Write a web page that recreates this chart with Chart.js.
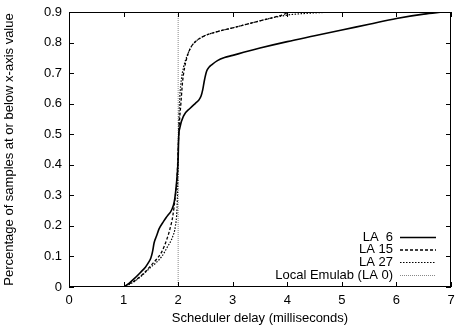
<!DOCTYPE html>
<html><head><meta charset="utf-8">
<script src="https://cdn.jsdelivr.net/npm/chart.js@4/dist/chart.umd.min.js"></script>
<style>html,body{margin:0;padding:0;background:#fff}#wrap{width:456px;height:326px}</style>
</head><body><div id="wrap"><canvas id="c" width="456" height="326"></canvas></div>
<script>
const xTicks = [0,1,2,3,4,5,6,7];
const yTicks = [0,0.1,0.2,0.3,0.4,0.5,0.6,0.7,0.8,0.9];
const seriesNames = ["LA  6","LA 15","LA 27","Local Emulab (LA 0)"];

const la6X = [1.0,1.1,1.2,1.3,1.4,1.45,1.5,1.53,1.56,1.6,1.65,1.73,1.8,1.88,1.93,1.97,2.0,2.01,2.03,2.1,2.22,2.32,2.38,2.42,2.45,2.48,2.52,2.56,2.62,2.72,2.85,3.0,3.2,3.5,4.0,4.5,5.0,5.5,6.0,6.5,6.85];
const la6Y = [0,0.012,0.028,0.046,0.065,0.078,0.095,0.115,0.145,0.165,0.19,0.214,0.232,0.252,0.28,0.34,0.42,0.49,0.52,0.56,0.585,0.602,0.612,0.625,0.645,0.675,0.705,0.718,0.728,0.741,0.751,0.758,0.768,0.782,0.803,0.822,0.841,0.86,0.879,0.893,0.9];

const la15X = [1.02,1.1,1.2,1.3,1.4,1.5,1.6,1.7,1.8,1.85,1.9,1.95,1.98,2.0,2.02,2.05,2.08,2.12,2.16,2.22,2.3,2.46,2.7,2.95,3.3,3.68,3.9,4.05];
const la15Y = [0,0.01,0.02,0.034,0.05,0.07,0.09,0.115,0.16,0.19,0.23,0.3,0.36,0.45,0.53,0.6,0.67,0.72,0.75,0.78,0.8,0.82,0.835,0.846,0.862,0.879,0.89,0.9];

const la27X = [1.05,1.1,1.2,1.3,1.4,1.5,1.6,1.7,1.8,1.9,1.95,1.98,2.0,2.01,2.03,2.06,2.1,2.15,2.22,2.3,2.46,2.7,2.95,3.3,3.68,4.0,4.3,4.6,4.9,5.0];
const la27Y = [0,0.008,0.018,0.032,0.048,0.065,0.08,0.1,0.13,0.165,0.2,0.26,0.4,0.52,0.62,0.68,0.72,0.75,0.78,0.8,0.82,0.835,0.846,0.862,0.879,0.89,0.895,0.898,0.9,0.9];

const la0X = [2,2];
const la0Y = [0,0.9];

const pts = (xs, ys) => xs.map((x,i)=>({x, y: ys[i]}));
const FONT = "'Liberation Sans', Arial, sans-serif";

const styles = [
  {color:'#000', width:1.6, dash:[]},
  {color:'#000', width:1.3, dash:[3,2]},
  {color:'#000', width:1.2, dash:[1.5,1.5]},
  {color:'#888', width:1, dash:[1,1]}
];

const datasets = [pts(la6X,la6Y), pts(la15X,la15Y), pts(la27X,la27Y), pts(la0X,la0Y)].map((d,i)=>({
  label: seriesNames[i], data: d, borderColor: styles[i].color, borderWidth: styles[i].width,
  borderDash: styles[i].dash, pointRadius: 0, fill: false,
  cubicInterpolationMode: i < 3 ? 'monotone' : 'default', tension: 0
}));

const frame = {
  id: 'frame',
  afterDatasetsDraw(chart) {
    const {ctx, chartArea: a, scales: {x, y}} = chart;
    ctx.save();
    ctx.strokeStyle = '#000'; ctx.lineWidth = 1; ctx.setLineDash([]);
    ctx.strokeRect(a.left + 0.5, a.top + 0.5, a.right - a.left - 1, a.bottom - a.top - 1);
    ctx.beginPath();
    const L = 5;
    xTicks.forEach(v => { const px = Math.round(x.getPixelForValue(v)) + 0.5;
      ctx.moveTo(px, a.bottom); ctx.lineTo(px, a.bottom - L);
      ctx.moveTo(px, a.top); ctx.lineTo(px, a.top + L); });
    yTicks.forEach(v => { const py = Math.round(y.getPixelForValue(v)) + 0.5;
      ctx.moveTo(a.left, py); ctx.lineTo(a.left + L, py);
      ctx.moveTo(a.right, py); ctx.lineTo(a.right - L, py); });
    ctx.stroke();
    // legend
    ctx.font = '13px ' + FONT; ctx.fillStyle = '#000'; ctx.textAlign = 'right'; ctx.textBaseline = 'middle';
    const rows = [237, 249.5, 262, 275];
    seriesNames.forEach((n, i) => {
      ctx.fillText(n, 393, rows[i]);
      ctx.beginPath(); ctx.strokeStyle = styles[i].color; ctx.lineWidth = styles[i].width;
      ctx.setLineDash(styles[i].dash);
      ctx.moveTo(400, rows[i] + 0.5); ctx.lineTo(436, rows[i] + 0.5); ctx.stroke();
    });
    ctx.restore();
  }
};

new Chart(document.getElementById('c'), {
  type: 'line',
  data: { datasets },
  options: {
    responsive: false, animation: false, devicePixelRatio: 1,
    layout: { padding: { top: 12, right: 5, left: 0, bottom: 0 } },
    plugins: { legend: { display: false }, tooltip: { enabled: false } },
    scales: {
      x: { type: 'linear', min: 0, max: 7,
        afterBuildTicks: s => { s.ticks = xTicks.map(v => ({value: v})); },
        afterFit: s => { s.height = 39; s.paddingLeft = 0; s.paddingRight = 0; },
        grid: { display: false, drawTicks: false }, border: { display: false },
        ticks: { color: '#000', font: { family: FONT, size: 13 }, padding: 6, maxRotation: 0,
          callback: v => String(v) },
        title: { display: true, text: 'Scheduler delay (milliseconds)', color: '#000',
          font: { family: FONT, size: 13 }, padding: { top: 3, bottom: 0 } }
      },
      y: { type: 'linear', min: 0, max: 0.9,
        afterBuildTicks: s => { s.ticks = yTicks.map(v => ({value: v})); },
        afterFit: s => { s.width = 69; s.paddingTop = 0; s.paddingBottom = 0; },
        grid: { display: false, drawTicks: false }, border: { display: false },
        ticks: { color: '#000', font: { family: FONT, size: 13 }, padding: 7,
          callback: v => (v === 0 ? '0' : v.toFixed(1)) },
        title: { display: true, text: 'Percentage of samples at or below x-axis value', color: '#000',
          font: { family: FONT, size: 13 }, padding: { top: 2, bottom: 2 } }
      }
    }
  },
  plugins: [frame]
});
</script></body></html>
